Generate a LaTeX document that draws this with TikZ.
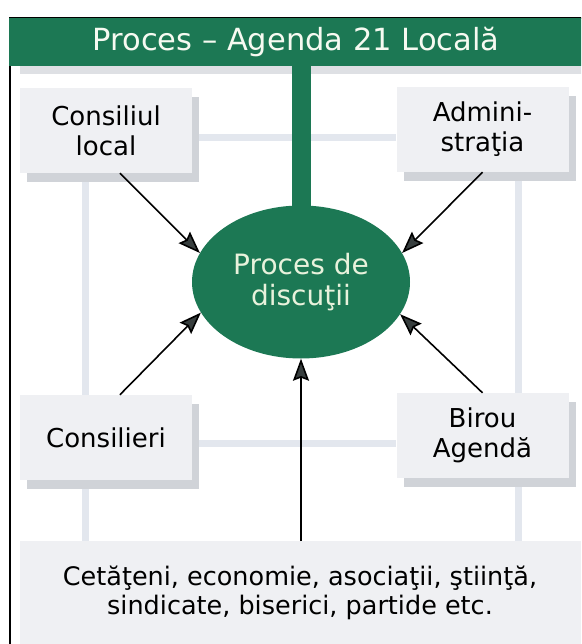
\documentclass[tikz,border=0pt]{standalone}
\usepackage{fontspec}
\setmainfont{DejaVu Sans}
\usetikzlibrary{shapes.geometric,arrows.meta,shadows,backgrounds,positioning}
\definecolor{agendagreen}{RGB}{28,120,84}
\definecolor{boxgray}{RGB}{239,240,243}
\definecolor{shadegray}{RGB}{208,211,216}
\definecolor{linkgray}{RGB}{227,231,238}
\definecolor{palegreen}{RGB}{232,242,220}
\definecolor{tipgray}{RGB}{55,62,62}

\begin{document}
\begin{tikzpicture}[x=1pt,y=-1pt,
  every node/.style={align=center,inner sep=0pt,font=\fontsize{26}{30}\selectfont},
  actor/.style={fill=boxgray,minimum width=172pt,minimum height=85pt,
    drop shadow={shadow xshift=7pt,shadow yshift=-9pt,fill=shadegray,opacity=1}},
  link/.style={draw=linkgray,line width=7pt},
  flow/.style={draw=black,line width=1.6pt,-{Stealth[length=22pt,width=16pt,inset=3pt,fill=tipgray]}}]
\useasboundingbox (0,0) rectangle (581,644);
\clip (0,0) rectangle (581,644);
% frame and title bar
\draw[line width=2pt] (10,18) rectangle (600,660);
\fill[shadegray!70] (20,66) rectangle (600,74);
\node[fill=agendagreen,text=palegreen!40!white,minimum width=574pt,minimum height=48pt,
  font=\fontsize{30.5}{34}\selectfont] (title) at (296,42) {Proces -- Agenda 21 Locală};
% actors
\node[actor] (local) at (106,130.5) {Consiliul\\local};
\node[actor] (admin) at (482.5,129.5) {Admini-\\straţia};
\node[actor] (councillors) at (106,437.5) {Consilieri};
\node[actor] (bureau) at (482.5,435.5) {Birou\\Agendă};
\node[fill=boxgray,minimum width=561pt,minimum height=104pt,anchor=north,
  font=\fontsize{25.5}{29}\selectfont] (people) at (300,541)
  {Cetăţeni, economie, asociaţii, ştiinţă,\\sindicate, biserici, partide etc.};
\node[ellipse,fill=agendagreen,text=palegreen,minimum width=218pt,minimum height=153pt,
  font=\fontsize{28}{31}\selectfont] (process) at (301,282) {Proces de\\discuţii};
\draw[agendagreen,line width=19pt] (process.north |- title.south) -- ([yshift=-10pt]process.north);
% links
\begin{scope}[on background layer]
\draw[link] ([yshift=-7pt]local.east) -- ([yshift=-7pt]local.east -| admin.west);
\draw[link] ([xshift=-21pt]local.south) -- ([xshift=-21pt]local.south |- people.north);
\draw[link] ([xshift=36pt]admin.south) -- ([xshift=36pt]admin.south |- people.north);
\draw[link] ([yshift=-6pt]councillors.east) -- ([yshift=-6pt]councillors.east -| bureau.west);
\end{scope}
% arrows
\draw[flow] (local.-72) -- (process.164);
\draw[flow] (admin.south) -- (process.16);
\draw[flow] (councillors.72) -- (process.197);
\draw[flow] (bureau.north) -- (process.342);
\draw[flow] (people.north -| process.south) -- (process.south);
\end{tikzpicture}
\end{document}
